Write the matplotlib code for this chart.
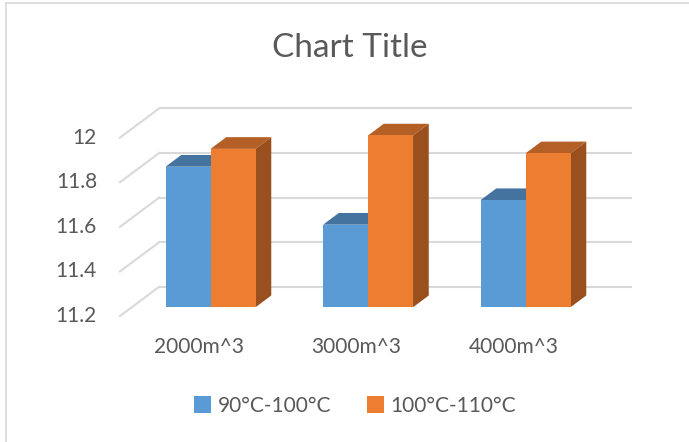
import matplotlib
matplotlib.use("Agg")
import matplotlib.pyplot as plt
from matplotlib.patches import Polygon, Patch
from matplotlib.lines import Line2D

plt.rcParams["font.family"] = ["Lato", "DejaVu Sans"]

# ── Data ─────────────────────────────────────────────────────────────────────
categories = ["2000m^3", "3000m^3", "4000m^3"]
series_names = ["90°C-100°C", "100°C-110°C"]
low_temp = [11.83, 11.57, 11.68]
high_temp = [11.91, 11.97, 11.89]
y_ticks = [11.2, 11.4, 11.6, 11.8, 12.0]
y_tick_labels = ["11.2", "11.4", "11.6", "11.8", "12"]

# ── Styling / projection ─────────────────────────────────────────────────────
front_colors = ["#5B9BD5", "#ED7D31"]
top_colors = ["#44739F", "#B45F26"]
side_colors = ["#3D6890", "#9A4F1E"]
grid_color = "#D9D9D9"
text_color = "#595959"

W, H = 689, 442
px_left, px_floor = 120.0, 316.0      # front-left corner of the floor (pixels)
px_per_cat, px_per_unit = 157.5, 223.0
depth_px = (39.3, -29.3)              # full-depth oblique offset (pixels)
bar_w = 1 / 3.5                       # gap width 150 %
f_front, f_back = 0.3, 0.7            # bar slab inside the depth
ymin = y_ticks[0]

# data-unit equivalents of the depth offset
DX = depth_px[0] / px_per_cat
DY = -depth_px[1] / px_per_unit

fig = plt.figure(figsize=(W / 100, H / 100), dpi=100)
fig.patch.set_facecolor("white")
ax = fig.add_axes([0, 0, 1, 1])
ax.set_xlim(-0.5 - px_left / px_per_cat, -0.5 + (W - px_left) / px_per_cat)
ax.set_ylim(ymin - (H - px_floor) / px_per_unit, ymin + px_floor / px_per_unit)
ax.axis("off")

n = len(categories)
x_lo, x_hi = -0.5, n - 0.5

# ── Walls: back gridlines + side wall diagonals ──────────────────────────────
for t in y_ticks:
    ax.plot([x_lo + DX, x_hi + DX], [t + DY, t + DY], color=grid_color, lw=1.5,
            solid_capstyle="butt", zorder=1)
    ax.plot([x_lo, x_lo + DX], [t, t + DY], color=grid_color, lw=1.5, zorder=1)

for t, lab in zip(y_ticks, y_tick_labels):
    ax.text(x_lo - 23 / px_per_cat, t, lab, ha="right", va="center",
            fontsize=15, color=text_color)

# ── Bars (front face, top face, side face) ───────────────────────────────────
ox, oy = DX * f_front, DY * f_front
ddx, ddy = DX * (f_back - f_front), DY * (f_back - f_front)

for i in range(n):
    for s, vals in enumerate([low_temp, high_temp]):
        v = vals[i]
        x0 = i - bar_w + s * bar_w + ox
        x1 = x0 + bar_w
        b, top = ymin + oy, v + oy
        z = 3 + i * 2 + s
        ax.bar(x0, v - ymin, width=bar_w, bottom=b, align="edge",
               color=front_colors[s], lw=0, zorder=z + 0.2)
        ax.add_patch(Polygon([(x0, top), (x1, top), (x1 + ddx, top + ddy),
                              (x0 + ddx, top + ddy)], closed=True,
                             fc=top_colors[s], lw=0, zorder=z + 0.1))
        ax.add_patch(Polygon([(x1, b), (x1, top), (x1 + ddx, top + ddy),
                              (x1 + ddx, b + ddy)], closed=True,
                             fc=side_colors[s], lw=0, zorder=z + 0.1))

# ── Category labels ──────────────────────────────────────────────────────────
for i, c in enumerate(categories):
    ax.text(i, ymin - 31 / px_per_unit, c, ha="center", va="center",
            fontsize=15, color=text_color)

# ── Title ────────────────────────────────────────────────────────────────────
fig.text(350 / W, 1 - 48 / H, "Chart Title", ha="center", va="center",
         fontsize=24, color=text_color)

# ── Legend ───────────────────────────────────────────────────────────────────
handles = [Patch(facecolor=c, edgecolor="none") for c in front_colors]
fig.legend(handles, series_names, loc="center", bbox_to_anchor=(355 / W, 1 - 406 / H),
           ncol=2, frameon=False, fontsize=15, labelcolor=text_color,
           handlelength=0.85, handleheight=0.85, handletextpad=0.3, columnspacing=1.7)

# ── Chart area border (top and left edges visible) ───────────────────────────
fig.add_artist(Line2D([5.5 / W, 1], [1 - 2.5 / H, 1 - 2.5 / H], transform=fig.transFigure,
                      color=grid_color, lw=1.2))
fig.add_artist(Line2D([5.5 / W, 5.5 / W], [0, 1 - 2.5 / H], transform=fig.transFigure,
                      color=grid_color, lw=1.2))

fig.savefig("out.png", dpi=100)
plt.close(fig)
